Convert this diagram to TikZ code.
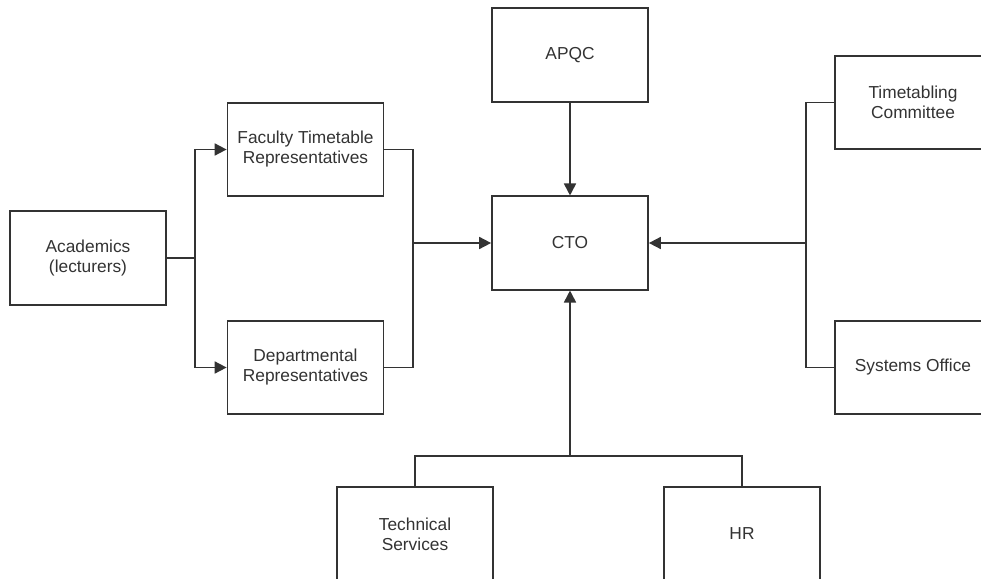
\documentclass[tikz,border=0pt]{standalone}
\usepackage{fontspec}
\setmainfont{Liberation Sans}
\usetikzlibrary{arrows.meta,calc}
\definecolor{linec}{HTML}{333333}
\definecolor{txtc}{HTML}{333333}
\begin{document}
\begin{tikzpicture}[x=0.75pt,y=-0.75pt,
  box/.style={draw=linec,line width=1.3pt,fill=white,minimum width=117pt,minimum height=70pt,inner sep=0pt,align=center,text=txtc,font=\fontsize{13}{15}\selectfont},
  conn/.style={draw=linec,line width=1.3pt},
  arr/.style={conn,-{Triangle[length=9pt,width=9pt]}}]
\clip (0,0) rectangle (981,578);
\fill[white] (0,0) rectangle (981,578);
\node[box] (apqc) at (570,55) {APQC};
\node[box] (cto) at (570,243) {CTO};
\node[box] (fac) at (305.5,149.5) {Faculty Timetable\\Representatives};
\node[box] (dep) at (305.5,367.5) {Departmental\\Representatives};
\node[box] (aca) at (88,258) {Academics\\(lecturers)};
\node[box] (ttc) at (913,102.5) {Timetabling\\Committee};
\node[box] (sys) at (913,367.5) {Systems Office};
\node[box] (tech) at (415,534) {Technical\\Services};
\node[box] (hr) at (742,534) {HR};
\coordinate (lb) at (195,258);
\coordinate (rj) at (413,243);
\coordinate (rb) at (806,243);
\coordinate (bb) at (570,456);
% left split
\draw[conn] (aca.east) -- (lb);
\draw[arr] (lb) |- (fac.west);
\draw[arr] (lb) |- (dep.west);
% join to CTO
\draw[conn] (fac.east) -| (rj);
\draw[conn] (dep.east) -| (rj);
\draw[arr] (rj) -- (cto.west);
% APQC
\draw[arr] (apqc.south) -- (cto.north);
% right bus
\draw[conn] (ttc.west) -| (rb);
\draw[conn] (sys.west) -| (rb);
\draw[arr] (rb) -- (cto.east);
% bottom bus
\draw[conn] (tech.north) |- (bb);
\draw[conn] (hr.north) |- (bb);
\draw[arr] (bb) -- (cto.south);
\end{tikzpicture}
\end{document}
